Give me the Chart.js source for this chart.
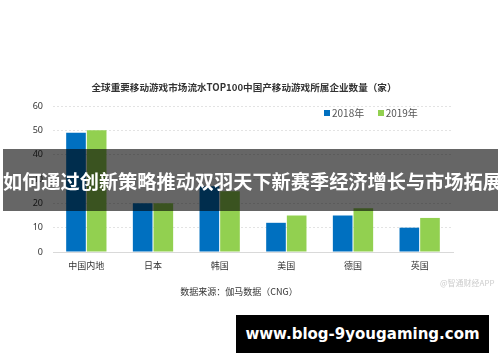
<!DOCTYPE html>
<html>
<head>
<meta charset="utf-8">
<script src="https://cdn.jsdelivr.net/npm/chart.js@4"></script>
<style>
  body { margin: 0; background: #fff; }
  #wrap { position: relative; width: 500px; height: 362px; overflow: hidden; font-family: "Noto Sans CJK SC", "Noto Sans", sans-serif; }
  #chart { position: absolute; left: 0; top: 0; }
  .txt { position: absolute; white-space: nowrap; }
  #title { left: 0; width: 488px; top: 80px; text-align: center; font-size: 9.6px; font-weight: bold; color: #333; }
  #legend { left: 324px; top: 105px; font-size: 10px; color: #555; }
  #legend span.box { display: inline-block; width: 6px; height: 6px; margin-right: 2px; vertical-align: 1px; }
  #source { left: 0; width: 478px; top: 285px; text-align: center; font-size: 9px; color: #333; }
  #mark { left: 440px; top: 277px; font-size: 8px; color: #ccc; }
  #banner { position: absolute; left: 3px; top: 149px; width: 495px; height: 62px; background: rgba(0,0,0,0.6);
            color: #fff; font-weight: bold; font-size: 19.2px; line-height: 64px; text-align: center; white-space: nowrap; }
  #site { position: absolute; left: 236px; top: 315px; width: 253px; height: 38px; background: #000; color: #fff;
          font-family: "DejaVu Sans", sans-serif; font-weight: bold; font-size: 15px; line-height: 38px; text-align: center; white-space: nowrap; }
</style>
</head>
<body>
<div id="wrap">
  <canvas id="chart" width="500" height="362"></canvas>
  <div class="txt" id="title">全球重要移动游戏市场流水TOP100中国产移动游戏所属企业数量（家）</div>
  <div class="txt" id="legend"><span class="box" style="background:#0070c0"></span>2018年&nbsp;&nbsp;&nbsp;&nbsp;&nbsp;&nbsp;<span class="box" style="background:#92d050"></span>2019年</div>
  <div class="txt" id="source">数据来源：伽马数据（CNG）</div>
  <div class="txt" id="mark">@智通财经APP</div>
  <div id="banner">如何通过创新策略推动双羽天下新赛季经济增长与市场拓展</div>
  <div id="site">www.blog-9yougaming.com</div>
</div>
<script>
// 数据
var regions = ['中国内地', '日本', '韩国', '美国', '德国', '英国'];
var seriesNames = ['2018年', '2019年'];
var counts2018 = [49, 20, 27, 12, 15, 10];
var counts2019 = [50, 20, 25, 15, 18, 14];
var yTicks = [0, 10, 20, 30, 40, 50, 60];

var ctx = document.getElementById('chart').getContext('2d');

var chart = new Chart(ctx, {
    type: 'bar',
    data: {
        labels: regions,
        datasets: [{
            label: seriesNames[0],
            data: counts2018,
            backgroundColor: '#0070c0',
            barPercentage: 0.95,
            categoryPercentage: 0.62
        }, {
            label: seriesNames[1],
            data: counts2019,
            backgroundColor: '#92d050',
            barPercentage: 0.95,
            categoryPercentage: 0.62
        }]
    },
    options: {
        responsive: false,
        animation: false,
        layout: { padding: { top: 106, left: 0, right: 47, bottom: 0 } },
        plugins: {
            legend: { display: false },
            title: { display: false },
            tooltip: { enabled: false }
        },
        scales: {
            x: {
                grid: { display: false, drawTicks: false },
                border: { display: true, color: '#d9d9d9' },
                ticks: {
                    padding: 8,
                    color: '#333',
                    font: { family: '"Noto Sans CJK SC"', size: 9 }
                },
                afterFit: function(scale) { scale.height = 110; }
            },
            y: {
                min: 0,
                max: 60,
                afterBuildTicks: function(scale) {
                    scale.ticks = yTicks.map(function(v) { return { value: v }; });
                },
                grid: {
                    drawTicks: false,
                    color: function(c) { return c.tick && c.tick.value === 0 ? 'rgba(0,0,0,0)' : '#e3e3e3'; }
                },
                border: { display: false, dash: [2, 2] },
                ticks: {
                    padding: 10,
                    color: '#333',
                    font: { family: '"Noto Sans", sans-serif', size: 9 }
                },
                afterFit: function(scale) { scale.width = 53; }
            }
        }
    }
});
</script>
</body>
</html>
